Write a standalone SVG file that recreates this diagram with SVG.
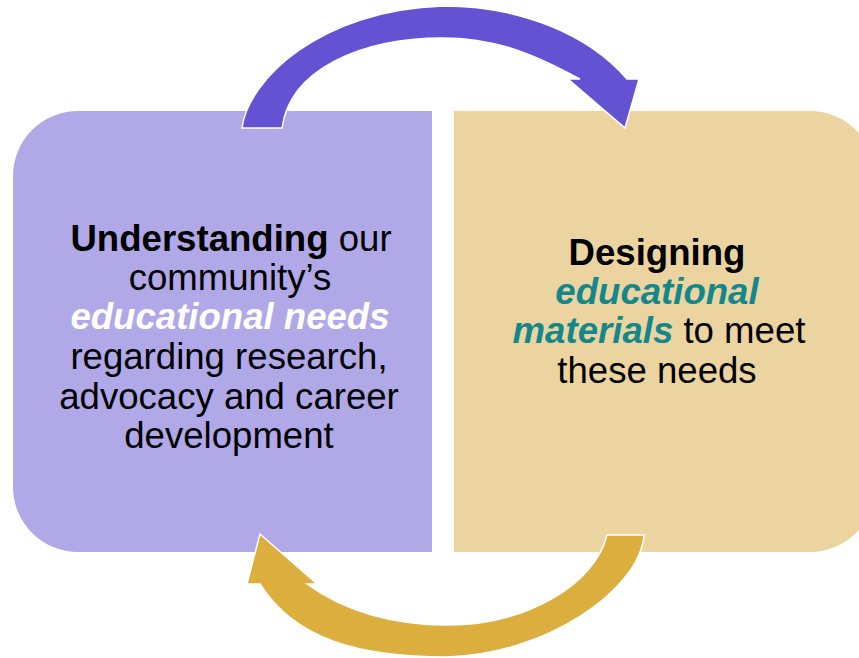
<svg xmlns="http://www.w3.org/2000/svg" width="859" height="658" viewBox="0 0 859 658">
  <style>
    .t { font-family: "Liberation Sans", Arial, sans-serif; font-size: 36.6px; fill: #000; text-anchor: middle; }
    .b { font-weight: bold; }
    .em-w { font-weight: bold; font-style: italic; fill: #ffffff; }
    .em-t { font-weight: bold; font-style: italic; fill: #14878C; }
    .arrow { stroke: #ffffff; stroke-width: 1.5; stroke-linejoin: miter; }
  </style>
  <rect width="859" height="658" fill="#ffffff"/>

  <!-- left box: understanding needs -->
  <g id="understanding">
    <path d="M78,111 H432 V552 H78 A65,65 0 0 1 13,487 V176 A65,65 0 0 1 78,111 Z" fill="#B1A8E8"/>
    <text class="t" x="231" y="251"><tspan class="b">Understanding</tspan> our</text>
    <text class="t" x="230" y="290">community’s</text>
    <text class="t em-w" x="230" y="329">educational needs</text>
    <text class="t" x="229" y="369">regarding research,</text>
    <text class="t" x="229" y="409">advocacy and career</text>
    <text class="t" x="229" y="448">development</text>
  </g>

  <!-- right box: designing materials -->
  <g id="designing">
    <path d="M454,111 H810 A65,65 0 0 1 875,176 V487 A65,65 0 0 1 810,552 H454 Z" fill="#EBD49F"/>
    <text class="t b" x="657" y="265">Designing</text>
    <text class="t em-t" x="657" y="304">educational</text>
    <text class="t" x="659" y="343"><tspan class="em-t">materials</tspan> to meet</text>
    <text class="t" x="657" y="383">these needs</text>
  </g>

  <!-- cycle arrows -->
  <g id="connectors">
    <path class="arrow" fill="#6352D2"
      d="M242,128 C248,80 320,10 443,6 C520,6 588,34 627,79 L639,79 L625,128 L568,79 L580,79 C548,62 505,38 443,38 C360,38 290,70 282,128 Z"/>
    <path class="arrow" fill="#DBAE3E"
      d="M644,535 C640,590 545,655 447,657 C360,657 295,640 260,584 L247,584 L260,534 L317,584 L307,584 C345,612 395,625 447,625 C525,625 595,585 607,535 Z"/>
  </g>
</svg>
